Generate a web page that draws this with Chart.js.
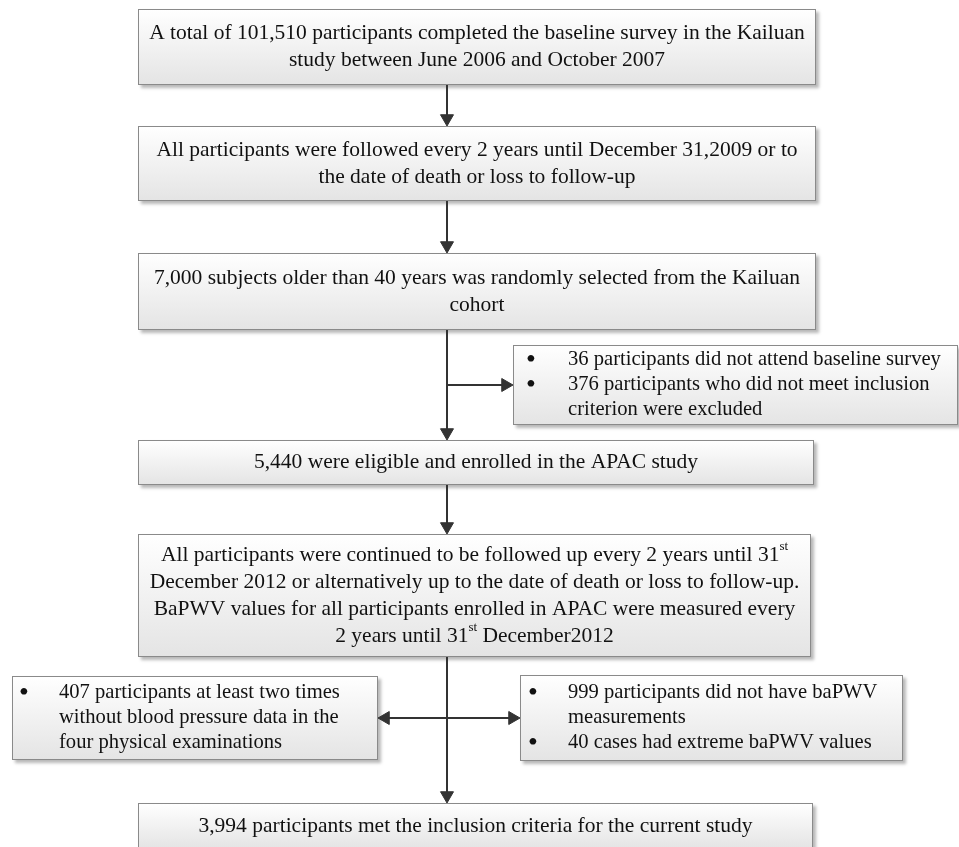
<!DOCTYPE html>
<html>
<head>
<meta charset="utf-8">
<script src="https://cdn.jsdelivr.net/npm/chart.js@4.4.1/dist/chart.umd.min.js"></script>
<style>
  html, body { margin: 0; padding: 0; background: #fff; }
  canvas { display: block; }
</style>
</head>
<body>
<canvas id="flow" width="959" height="847"></canvas>
<script>
// texte des boites principales ({..} = exposant)
const mainBoxLines = [
    ["A total of 101,510 participants completed the baseline survey in the Kailuan", "study between June 2006 and October 2007"],
    ["All participants were followed every 2 years until December 31,2009 or to", "the date of death or loss to follow-up"],
    ["7,000 subjects older than 40 years was randomly selected from the Kailuan", "cohort"],
    ["5,440 were eligible and enrolled in the APAC study"],
    ["All participants were continued to be followed up every 2 years until 31{st}",
     "December 2012 or alternatively up to the date of death or loss to follow-up.",
     "BaPWV values for all participants enrolled in APAC were measured every",
     "2 years until 31{st} December2012"],
    ["3,994 participants met the inclusion criteria for the current study"]
];

// boites d'exclusion : une liste de puces, chaque puce = ses lignes
const exclusionBullets = [
    [["36 participants did not attend baseline survey"], ["376 participants who did not meet inclusion", "criterion were excluded"]],
    [["407 participants at least two times", "without blood pressure data in the", "four physical examinations"]],
    [["999 participants did not have baPWV", "measurements"], ["40 cases had extreme baPWV values"]]
];

// mise en page (coordonnees de l'axe, en px de l'image)
const mainBoxRects = [[138, 9, 816, 85], [138, 126, 816, 201], [138, 253, 816, 330], [138, 440, 814, 485], [138, 534, 811, 657], [138, 803, 813, 849]];
const exclusionRects = [[513, 345, 958, 425], [12, 676, 378, 760], [520, 675, 903, 761]];
const exclusionIndent = [[531, 568], [24, 59], [533, 568]];   // x puce, x texte
const spineX = 447;
const arrowR = 7.5;

// fleches : [x0, y0, x1, y1, rotation de la pointe]
const arrows = [
    [spineX, 85, spineX, 126, 180],
    [spineX, 201, spineX, 253, 180],
    [spineX, 330, spineX, 440, 180],
    [spineX, 385, 513, 385, 90],
    [spineX, 485, spineX, 534, 180],
    [spineX, 657, spineX, 803, 180],
    [spineX, 718, 378, 718, 270],
    [spineX, 718, 520, 718, 90]
];

const FONT = '"Liberation Serif", "Times New Roman", serif';
const FS_MAIN = 21.5;
const FS_BULLET = 20.6;

function tipOffset(a) {
    // recule le centre du triangle pour que la pointe touche la boite
    const rad = a[4] * Math.PI / 180;
    return { x: a[2] - Math.sin(rad) * arrowR, y: a[3] + Math.cos(rad) * arrowR };
}

const datasets = arrows.map(a => {
    const t = tipOffset(a);
    return {
        type: 'line',
        data: [{ x: a[0], y: a[1] }, { x: t.x, y: t.y }],
        showLine: true,
        borderColor: '#333',
        borderWidth: 2,
        pointStyle: 'triangle',
        pointRadius: [0, arrowR],
        pointRotation: [0, a[4]],
        pointBackgroundColor: '#333',
        pointBorderColor: '#333',
        pointBorderWidth: 1
    };
});

function parseSegments(line) {
    return line.split(/(\{[^}]*\})/).filter(s => s.length).map(s =>
        s[0] === '{' ? { text: s.slice(1, -1), sup: true } : { text: s, sup: false });
}

function drawRich(ctx, line, x, y, align, fs) {
    const segs = parseSegments(line);
    const widths = segs.map(s => {
        ctx.font = (s.sup ? 13 : fs) + 'px ' + FONT;
        return ctx.measureText(s.text).width;
    });
    const total = widths.reduce((a, b) => a + b, 0);
    let cx = align === 'center' ? x - total / 2 : x;
    segs.forEach((s, i) => {
        ctx.font = (s.sup ? 13 : fs) + 'px ' + FONT;
        ctx.fillText(s.text, cx, s.sup ? y - 8 : y);
        cx += widths[i];
    });
}

function drawBox(ctx, sx, sy, r) {
    const x0 = sx.getPixelForValue(r[0]), x1 = sx.getPixelForValue(r[2]);
    const y0 = sy.getPixelForValue(r[1]), y1 = sy.getPixelForValue(r[3]);
    const g = ctx.createLinearGradient(0, y0, 0, y1);
    g.addColorStop(0, '#ffffff');
    g.addColorStop(1, '#e4e4e4');
    ctx.save();
    ctx.shadowColor = 'rgba(0,0,0,0.28)';
    ctx.shadowOffsetX = 3;
    ctx.shadowOffsetY = 3;
    ctx.shadowBlur = 3;
    ctx.fillStyle = g;
    ctx.fillRect(x0, y0, x1 - x0, y1 - y0);
    ctx.restore();
    ctx.strokeStyle = '#8a8a8a';
    ctx.lineWidth = 1;
    ctx.strokeRect(Math.round(x0) + 0.5, Math.round(y0) + 0.5, Math.round(x1 - x0) - 1, Math.round(y1 - y0) - 1);
    return { x0, x1, y0, y1 };
}

const boxesPlugin = {
    id: 'boxes',
    beforeDatasetsDraw(chart) {
        const ctx = chart.ctx, sx = chart.scales.x, sy = chart.scales.y;
        ctx.save();
        ctx.textBaseline = 'middle';

        mainBoxRects.forEach((r, i) => {
            const b = drawBox(ctx, sx, sy, r);
            const lines = mainBoxLines[i];
            const lh = 27;
            const cy = (b.y0 + b.y1) / 2 - (lines.length - 1) * lh / 2;
            ctx.fillStyle = '#111';
            lines.forEach((l, k) => drawRich(ctx, l, (b.x0 + b.x1) / 2, cy + k * lh, 'center', FS_MAIN));
        });

        exclusionRects.forEach((r, i) => {
            const b = drawBox(ctx, sx, sy, r);
            const items = exclusionBullets[i];
            const n = items.reduce((s, it) => s + it.length, 0);
            const lh = 25;
            const bx = sx.getPixelForValue(exclusionIndent[i][0]);
            const tx = sx.getPixelForValue(exclusionIndent[i][1]);
            let y = (b.y0 + b.y1) / 2 - (n - 1) * lh / 2;
            ctx.fillStyle = '#111';
            items.forEach(it => {
                ctx.font = '28px ' + FONT;
                ctx.textAlign = 'center';
                ctx.fillText('\u2022', bx, y + 1);
                ctx.textAlign = 'left';
                it.forEach(l => {
                    drawRich(ctx, l, tx, y, 'left', FS_BULLET);
                    y += lh;
                });
            });
        });
        ctx.restore();
    }
};

new Chart(document.getElementById('flow'), {
    type: 'scatter',
    data: { datasets: datasets },
    options: {
        responsive: false,
        animation: false,
        layout: { padding: 0, autoPadding: false },
        scales: {
            x: { type: 'linear', min: 0, max: 959, display: false },
            y: { type: 'linear', min: 0, max: 847, reverse: true, display: false }
        },
        plugins: { legend: { display: false }, tooltip: { enabled: false } },
        events: []
    },
    plugins: [boxesPlugin]
});
</script>
</body>
</html>
